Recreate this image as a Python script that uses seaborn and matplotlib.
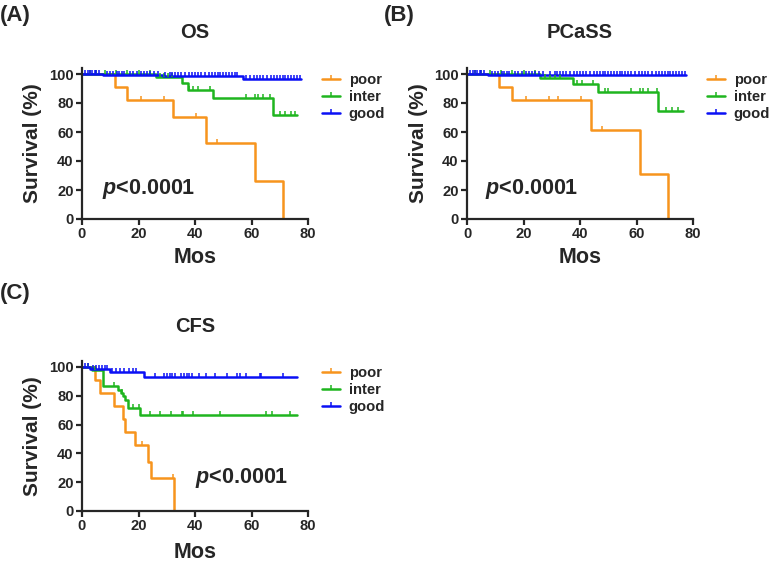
import numpy as np
import pandas as pd
import matplotlib
matplotlib.use("Agg")
import matplotlib.pyplot as plt
from matplotlib.markers import MarkerStyle
from matplotlib.transforms import Affine2D
from matplotlib.lines import Line2D
import seaborn as sns

# ---------------- data ----------------
groups = ["poor", "inter", "good"]
colors = ["#F7941D", "#1FB51F", "#0A10F5"]

# Panel A: OS
os_poor_t = [0, 11.8, 16.1, 32.2, 43.9, 61.3, 71.2]
os_poor_s = [100, 90.9, 81.8, 70.1, 52.6, 26.3, 0]
os_poor_c = [21, 29, 40.4, 47.9]
os_inter_t = [0, 26.2, 35.3, 37.6, 46.5, 67.5, 76.2]
os_inter_s = [100, 97.7, 93.6, 89.0, 83.7, 72.0, 72.0]
os_inter_c = [3, 5, 8, 12, 16, 20, 24, 27.5, 29, 30.5, 32, 37.9, 39.4, 41.2, 45.3,
              58.2, 61.2, 62.4, 64.1, 66.5, 70, 72, 73.9, 75.5]
os_good_t = [0, 7.5, 28.5, 57.0, 77.4]
os_good_s = [100, 99.3, 98.4, 96.3, 96.3]
os_good_c = [1, 2, 3, 3.5, 4.5, 5, 6, 9, 10, 11, 12.5, 13, 14, 15, 17, 18, 19.5, 21,
             22, 23, 24, 25.5, 27, 29.5, 31, 32, 33, 34, 35, 36.5, 38, 39, 40, 41, 42,
             43.5, 45, 46, 47, 48, 49, 50, 51, 52, 53, 54, 55, 58, 59.5, 61, 62, 63,
             64, 65.5, 67, 68, 69, 70, 71, 72, 73, 74, 75, 76, 77]

# Panel B: PCaSS
pc_poor_t = [0, 11.5, 15.9, 43.8, 61.3, 71.2]
pc_poor_s = [100, 90.9, 81.8, 61.4, 30.7, 0]
pc_poor_c = [20.9, 29.2, 32.1, 40.4, 47.9]
pc_inter_t = [0, 25.8, 37.6, 46.4, 67.6, 76.3]
pc_inter_s = [100, 97.5, 92.9, 87.4, 74.7, 74.7]
pc_inter_c = [3, 5, 8, 12, 16, 20, 24, 27.6, 29.4, 31.2, 33, 38.8, 40.6, 44.7, 48.8,
              50, 58.2, 61.2, 62.4, 64.1, 67.1, 70.6, 72.6, 74.7]
pc_good_t = [0, 7.5, 77.4]
pc_good_s = [100, 99.4, 99.4]
pc_good_c = [1, 2, 3, 3.5, 4.5, 5, 6, 9, 10, 11, 12.5, 13, 14, 15, 17, 18, 19.5, 21,
             22, 23, 24, 25.5, 27, 29.5, 31, 32, 33, 34, 35, 36.5, 38, 39, 40, 41, 42,
             43.5, 45, 46, 47, 48, 49, 50, 51, 52, 53, 54, 55, 56, 57, 58, 59.5, 61,
             62, 63, 64, 65.5, 67, 68, 69, 70, 71, 72, 73, 74, 75, 76, 77]

# Panel C: CFS
cf_poor_t = [0, 4.7, 6.5, 11.2, 14.6, 15.2, 18.8, 23.2, 24.3, 32.5]
cf_poor_s = [100, 90.9, 81.8, 72.7, 63.6, 54.5, 45.5, 34.1, 22.7, 0]
cf_poor_c = [21.1, 32.1]
cf_inter_t = [0, 3.5, 7.6, 12.9, 13.8, 14.5, 15.3, 16.2, 20.6, 76.2]
cf_inter_s = [100, 97.7, 86.7, 84.2, 81.9, 79.6, 76.8, 71.7, 66.4, 66.4]
cf_inter_c = [2, 4.5, 11.2, 14, 18.2, 20, 24.1, 27.6, 31.4, 35.3, 35.8, 39.2, 48.8,
              65.3, 67.4, 73.8]
cf_good_t = [0, 2.9, 10.0, 21.8, 76.2]
cf_good_s = [100, 98.8, 96.5, 93.0, 93.0]
cf_good_c = [1, 2, 4, 5, 6, 7, 8, 9, 10.5, 12, 13.5, 15, 16.5, 18, 19, 26, 29, 30, 31,
             32, 33, 35, 36, 37, 38, 39, 41.5, 44, 47, 51.5, 55, 56, 58, 63, 63.5, 71]

panels = [
    dict(title="OS", label="(A)",
         curves=[(os_poor_t, os_poor_s, os_poor_c), (os_inter_t, os_inter_s, os_inter_c),
                 (os_good_t, os_good_s, os_good_c)],
         p_xy=(7, 20.7)),
    dict(title="PCaSS", label="(B)",
         curves=[(pc_poor_t, pc_poor_s, pc_poor_c), (pc_inter_t, pc_inter_s, pc_inter_c),
                 (pc_good_t, pc_good_s, pc_good_c)],
         p_xy=(6.4, 21)),
    dict(title="CFS", label="(C)",
         curves=[(cf_poor_t, cf_poor_s, cf_poor_c), (cf_inter_t, cf_inter_s, cf_inter_c),
                 (cf_good_t, cf_good_s, cf_good_c)],
         p_xy=(40, 23)),
]

# ---------------- styling ----------------
sns.set_style("ticks")
plt.rcParams["font.family"] = ["Liberation Sans", "DejaVu Sans"]
plt.rcParams["font.weight"] = "bold"
plt.rcParams["mathtext.fontset"] = "custom"
plt.rcParams["mathtext.it"] = "Liberation Sans:bold:italic"
plt.rcParams["mathtext.rm"] = "Liberation Sans:bold"

W, H = 776, 563
fig = plt.figure(figsize=(W / 100, H / 100), dpi=100)

tick_marker = MarkerStyle("|", transform=Affine2D().translate(0, 0.5))

# axes geometry in pixels: (x0, x80, y0, ytop)
geom = [(82, 308, 219, 68.2), (467, 693, 219, 68.2), (82, 308, 511, 361.2)]

for pi, (panel, (x0, x1, yb, yt)) in enumerate(zip(panels, geom)):
    ax = fig.add_axes([x0 / W, 1 - yb / H, (x1 - x0) / W, (yb - yt) / H])
    rows = []
    cens = []
    for g, (t, s, c) in zip(groups, panel["curves"]):
        for ti, si in zip(t, s):
            rows.append((ti, si, g))
        t_arr = np.asarray(t)
        s_arr = np.asarray(s)
        for ci in c:
            idx = np.searchsorted(t_arr, ci, side="right") - 1
            cens.append((ci, s_arr[idx], g))
    df = pd.DataFrame(rows, columns=["time", "surv", "group"])
    dc = pd.DataFrame(cens, columns=["time", "surv", "group"])
    pal = dict(zip(groups, colors))
    sns.lineplot(data=df, x="time", y="surv", hue="group", hue_order=groups,
                 palette=pal, estimator=None, sort=False, drawstyle="steps-post",
                 linewidth=1.8, legend=False, ax=ax)
    for g in groups:
        sub = dc[dc.group == g]
        sns.scatterplot(data=sub, x="time", y="surv", color=pal[g], marker=tick_marker,
                        s=7, linewidth=1.1, legend=False, ax=ax, zorder=3)
    ax.set_xlim(0, 80)
    ax.set_ylim(0, 104)
    ax.set_xticks([0, 20, 40, 60, 80])
    ax.set_yticks([0, 20, 40, 60, 80, 100])
    ax.set_xlabel("")
    ax.set_ylabel("")
    for sp in ["top", "right"]:
        ax.spines[sp].set_visible(False)
    for sp in ["left", "bottom"]:
        ax.spines[sp].set_linewidth(1.6)
    ax.tick_params(axis="both", length=4, width=1.6, labelsize=10.6, pad=2)
    for lab in ax.get_xticklabels() + ax.get_yticklabels():
        lab.set_fontweight("bold")
    ax.margins(0)

    px, py = panel["p_xy"]
    ax.text(px, py, r"$p$<0.0001", fontsize=15.5, fontweight="bold", va="center", ha="left")

    handles = [Line2D([0], [0], color=c, lw=1.8, marker=tick_marker, markersize=3,
                      markeredgewidth=1.1) for c in colors]
    ax.legend(handles, groups, loc="upper left", bbox_to_anchor=(1.06, 0.965),
              frameon=False, borderaxespad=0, borderpad=0, handlelength=1.25,
              handletextpad=0.6, labelspacing=0.2, prop=dict(size=10.6, weight="bold"))

    cx = (x0 + x1) / 2
    title_y = 33 if pi < 2 else 326.7
    fig.text(cx / W, 1 - title_y / H, panel["title"], fontsize=14.5, fontweight="bold",
             ha="center", va="center")
    xl_y = 258 if pi < 2 else 553
    fig.text(cx / W, 1 - xl_y / H, "Mos", fontsize=15.5, fontweight="bold",
             ha="center", va="center")
    yl_x = x0 - 49
    fig.text(yl_x / W, 1 - ((yb + yt) / 2) / H, "Survival (%)", fontsize=15,
             fontweight="bold", ha="center", va="center", rotation=90)
    lab_x = 0 if pi != 1 else 384
    lab_y = 15 if pi < 2 else 293
    fig.text(lab_x / W, 1 - lab_y / H, panel["label"], fontsize=16, fontweight="bold",
             ha="left", va="center")

fig.savefig("out.png", dpi=100)
